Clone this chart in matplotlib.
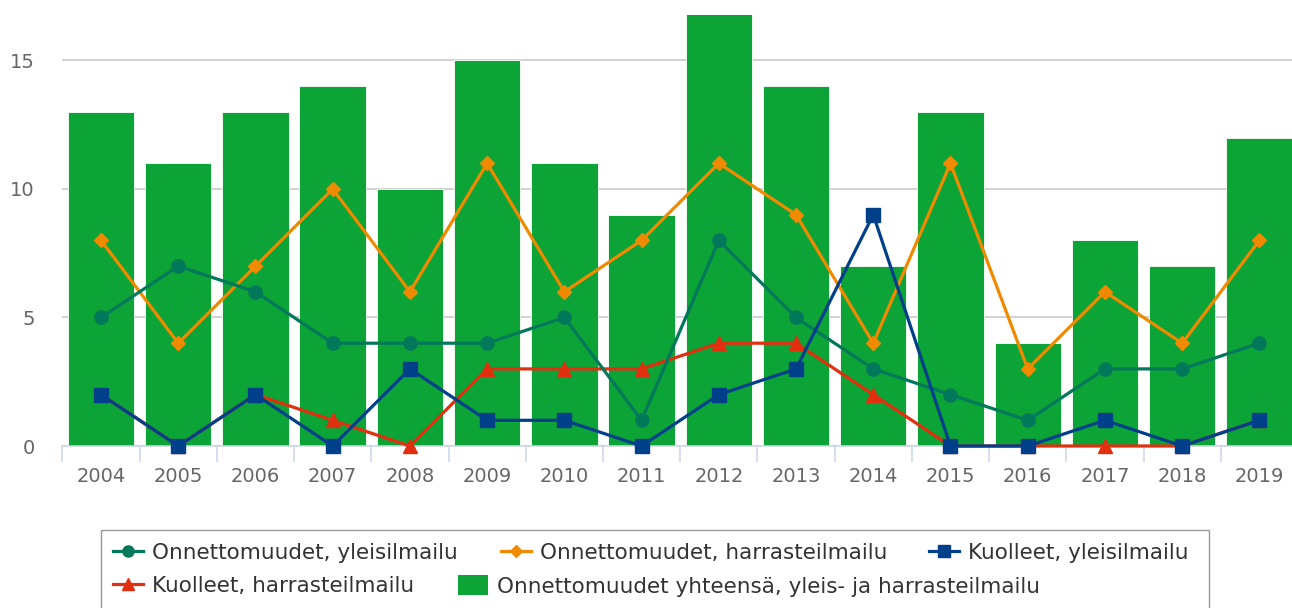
import matplotlib
matplotlib.use("Agg")
import matplotlib.pyplot as plt
from matplotlib.lines import Line2D
from matplotlib.patches import Patch, Rectangle
import numpy as np

years = ["2004", "2005", "2006", "2007", "2008", "2009", "2010", "2011",
         "2012", "2013", "2014", "2015", "2016", "2017", "2018", "2019"]
onn_yleis = [5, 7, 6, 4, 4, 4, 5, 1, 8, 5, 3, 2, 1, 3, 3, 4]
onn_harr = [8, 4, 7, 10, 6, 11, 6, 8, 11, 9, 4, 11, 3, 6, 4, 8]
kuol_yleis = [2, 0, 2, 0, 3, 1, 1, 0, 2, 3, 9, 0, 0, 1, 0, 1]
kuol_harr = [2, 0, 2, 1, 0, 3, 3, 3, 4, 4, 2, 0, 0, 0, 0, 1]
onn_total = [13, 11, 13, 14, 10, 15, 11, 9, 17, 14, 7, 13, 4, 8, 7, 12]
yticks = [0, 5, 10, 15]

labels = ["Onnettomuudet, yleisilmailu", "Onnettomuudet, harrasteilmailu",
          "Kuolleet, yleisilmailu", "Kuolleet, harrasteilmailu",
          "Onnettomuudet yhteensä, yleis- ja harrasteilmailu"]

C_TEAL = "#00785a"
C_ORANGE = "#f08a00"
C_BLUE = "#003f8a"
C_RED = "#e0300f"
C_GREEN = "#0ca337"

plt.rcParams['font.family'] = ['DejaVu Sans']

W, H = 1292, 608
fig = plt.figure(figsize=(W / 100, H / 100), dpi=100)
ax = fig.add_axes([62.4 / W, (H - 446) / H, (1298 - 62.4) / W, (446 - 15) / H])

x = np.arange(len(years))
ax.bar(x, onn_total, width=0.86, color=C_GREEN, edgecolor="white",
       linewidth=0.6, zorder=2)

lw = 2.3
ax.plot(x, kuol_harr, color=C_RED, lw=lw, marker="^", ms=10, zorder=3, clip_on=False)
ax.plot(x, onn_harr, color=C_ORANGE, lw=lw, marker="D", ms=7, zorder=4, clip_on=False)
ax.plot(x, onn_yleis, color=C_TEAL, lw=lw, marker="o", ms=9.5, zorder=5, clip_on=False)
ax.plot(x, kuol_yleis, color=C_BLUE, lw=lw, marker="s", ms=10.3, zorder=6, clip_on=False)

ax.set_xlim(-0.5, len(years) - 0.5)
ax.set_ylim(0, 16.77)
ax.set_yticks(yticks)
ax.set_yticklabels([str(v) for v in yticks])
ax.grid(axis="y", color="#c6c6c6", lw=1.1, zorder=0)
ax.set_axisbelow(True)

ax.set_xticks(x)
ax.set_xticklabels(years)
ax.set_xticks(np.arange(-0.5, len(years)), minor=True)
ax.tick_params(axis="x", which="major", length=0, pad=15, labelsize=14,
               labelcolor="#666666")
ax.tick_params(axis="x", which="minor", length=11.5, width=1.1,
               color="#ccd6eb")
ax.tick_params(axis="y", length=0, pad=20, labelsize=14, labelcolor="#666666")

for s in ["top", "right", "left"]:
    ax.spines[s].set_visible(False)
ax.spines["bottom"].set_color("#ccd6eb")
ax.spines["bottom"].set_linewidth(1.1)
ax.spines["bottom"].set_zorder(2.5)

# legend frame
fig.add_artist(Rectangle((101 / W, -0.05), (1209 - 101) / W, (H - 530) / H + 0.05,
                         transform=fig.transFigure, facecolor="none",
                         edgecolor="#999999", lw=1.0))

handles = [
    Line2D([], [], color=C_TEAL, lw=2.3, marker="o", ms=8),
    Line2D([], [], color=C_ORANGE, lw=2.3, marker="D", ms=6),
    Line2D([], [], color=C_BLUE, lw=2.3, marker="s", ms=8),
    Line2D([], [], color=C_RED, lw=2.3, marker="^", ms=9),
    Patch(facecolor=C_GREEN, edgecolor="none"),
]
row1 = (H - 553) / H
row2 = (H - 586) / H
positions = [(113, row1), (501, row1), (929, row1), (113, row2), (458, row2)]
fs = 15.5
for h, lab, (px, py) in zip(handles, labels, positions):
    hh = 1.0 if isinstance(h, Patch) else 0.7
    leg = fig.legend([h], [lab], loc="center left",
                     bbox_to_anchor=(px / W, py), frameon=False,
                     borderpad=0, borderaxespad=0, handlelength=1.4,
                     handleheight=hh, handletextpad=0.42, fontsize=fs,
                     labelcolor="#333333")

fig.savefig("out.png", dpi=100)
